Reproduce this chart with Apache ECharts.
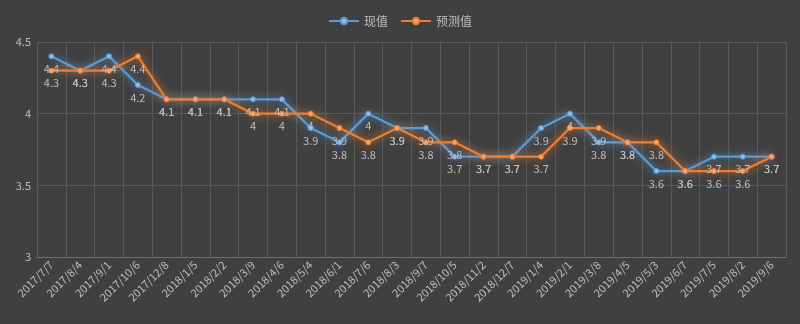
<!DOCTYPE html>
<html>
<head>
<meta charset="utf-8">
<script src="https://cdn.jsdelivr.net/npm/echarts@6/dist/echarts.min.js"></script>
<style>
  html, body { margin: 0; padding: 0; background: #404040; }
  #chart { width: 800px; height: 324px; }
</style>
</head>
<body>
<div id="chart"></div>
<script>
// Survey dates on the x axis
const dates = [
  '2017/7/7', '2017/8/4', '2017/9/1', '2017/10/6', '2017/12/8', '2018/1/5',
  '2018/2/2', '2018/3/9', '2018/4/6', '2018/5/4', '2018/6/1', '2018/7/6',
  '2018/8/3', '2018/9/7', '2018/10/5', '2018/11/2', '2018/12/7', '2019/1/4',
  '2019/2/1', '2019/3/8', '2019/4/5', '2019/5/3', '2019/6/7', '2019/7/5',
  '2019/8/2', '2019/9/6'
];

// Actual values
const actualValues = [
  4.4, 4.3, 4.4, 4.2, 4.1, 4.1, 4.1, 4.1, 4.1, 3.9, 3.8, 4.0, 3.9,
  3.9, 3.7, 3.7, 3.7, 3.9, 4.0, 3.8, 3.8, 3.6, 3.6, 3.7, 3.7, 3.7
];

// Forecast values
const forecastValues = [
  4.3, 4.3, 4.3, 4.4, 4.1, 4.1, 4.1, 4.0, 4.0, 4.0, 3.9, 3.8, 3.9,
  3.8, 3.8, 3.7, 3.7, 3.7, 3.9, 3.9, 3.8, 3.8, 3.6, 3.6, 3.6, 3.7
];

const seriesNames = ['现值', '预测值'];

const FONT = '"Noto Sans CJK SC", "Noto Sans", sans-serif';
const TEXT = '#bfbfbf';
const GRID = '#595959';

function makeSeries(name, data, color, fill) {
  return {
    name: name,
    type: 'line',
    data: data,
    symbol: 'circle',
    symbolSize: 5,
    itemStyle: { color: fill, borderColor: color, borderWidth: 1 },
    lineStyle: {
      color: color,
      width: 2.25,
      shadowColor: color,
      shadowBlur: 9
    },
    label: {
      show: true,
      position: 'bottom',
      distance: 4,
      color: TEXT,
      fontFamily: FONT,
      fontSize: 11
    },
    labelLayout: { hideOverlap: false },
    animation: false
  };
}

const chart = echarts.init(document.getElementById('chart'));
chart.setOption({
  backgroundColor: '#404040',
  legend: {
    top: 10,
    left: 'center',
    itemWidth: 30,
    itemHeight: 8,
    itemGap: 12,
    textStyle: { color: TEXT, fontFamily: FONT, fontSize: 12 },
    data: seriesNames
  },
  grid: { left: 37, right: 14, top: 42, bottom: 67, containLabel: false },
  xAxis: {
    type: 'category',
    data: dates,
    boundaryGap: true,
    axisLine: { lineStyle: { color: '#6e6e6e', width: 1 } },
    axisTick: { show: false },
    splitLine: { show: true, lineStyle: { color: GRID, width: 1 } },
    axisLabel: {
      interval: 0,
      rotate: 45,
      color: TEXT,
      fontFamily: FONT,
      fontSize: 11,
      margin: 6
    }
  },
  yAxis: {
    type: 'value',
    min: 3,
    max: 4.5,
    interval: 0.5,
    axisLine: { show: false },
    axisTick: { show: false },
    splitLine: { lineStyle: { color: GRID, width: 1 } },
    axisLabel: {
      color: TEXT,
      fontFamily: FONT,
      fontSize: 11,
      margin: 6
    }
  },
  series: [
    makeSeries(seriesNames[0], actualValues, '#5B9BD5', '#8fbde6'),
    makeSeries(seriesNames[1], forecastValues, '#ED7D31', '#f5a46e')
  ]
});
</script>
</body>
</html>
